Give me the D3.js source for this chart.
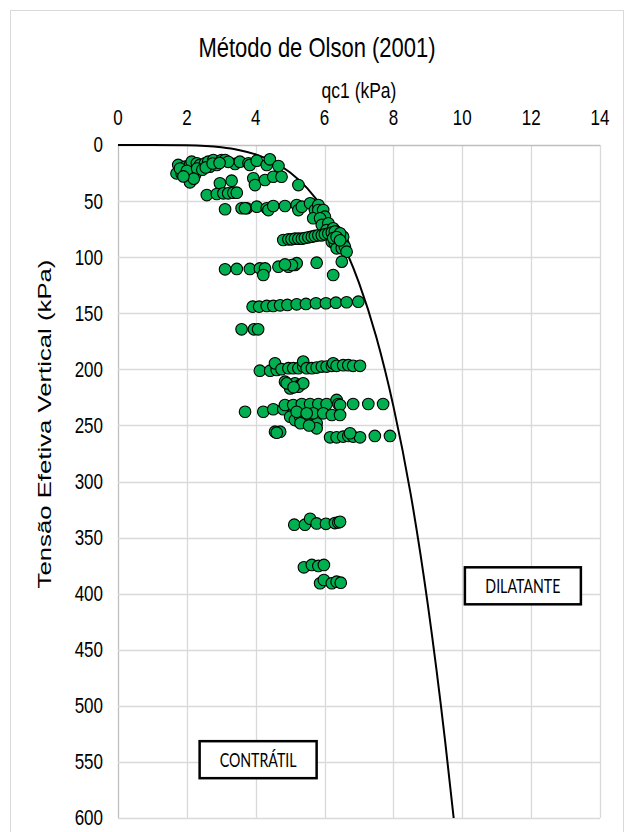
<!DOCTYPE html>
<html>
<head>
<meta charset="utf-8">
<script src="https://cdn.jsdelivr.net/npm/d3@7"></script>
<style>
  html, body { margin: 0; padding: 0; background: #fff; }
  svg { display: block; }
</style>
</head>
<body>
<svg id="chart" width="634" height="832"></svg>
<script>
// Axis ticks
const xTicks = [0, 2, 4, 6, 8, 10, 12, 14];
const yTicks = [0, 50, 100, 150, 200, 250, 300, 350, 400, 450, 500, 550, 600];

// Olson (2001) contractive / dilative boundary (qc1 vs. effective vertical stress)
const boundaryQc1 = [0, 1, 2, 3, 3.5, 4, 4.5, 5, 5.5, 6, 6.5, 7, 7.5, 8, 8.5, 9, 9.5, 9.75];
const boundarySigma = [0, 0.01, 0.3, 2.1, 4.4, 8.4, 14.8, 24.5, 38.7, 58.7, 86.1, 122.9, 171, 233, 311, 410, 531, 600];

// CPT measurements: qc1 and effective vertical stress (kPa)
const pointQc1 = [
  1.75, 1.70, 1.85, 1.95, 2.09, 2.04, 2.19, 2.14, 2.29, 2.38, 2.53, 2.62, 2.67, 2.77, 2.87, 3.01, 3.11, 3.40, 3.54, 3.79,
  3.83, 4.03, 4.32, 4.41, 4.66, 3.93, 3.98, 4.27, 4.51, 4.75, 2.09, 2.24, 5.24, 2.96, 3.30,
  1.80, 2.00, 2.30, 2.45, 2.20, 1.90, 2.55, 2.75, 3.20, 2.95,
  2.58, 2.87, 3.06, 3.20, 3.35, 3.45,
  3.11, 3.59, 3.74, 4.03, 4.32, 4.37, 4.51, 4.85, 5.19, 5.24, 5.34, 5.58, 5.72, 5.82, 5.82, 5.96, 3.69,
  5.67, 6.01, 5.87, 5.92, 6.11, 6.06, 6.25, 6.35,
  4.80, 4.95, 5.04, 5.14, 5.24, 5.34, 5.43, 5.53, 5.63, 5.72, 5.82, 5.92, 6.01, 6.11, 6.21, 6.30,
  6.21, 6.30, 6.40, 6.45, 6.54, 6.35, 6.50, 6.59, 6.64, 6.54, 6.45, 6.25, 6.35, 6.45,
  3.11, 3.45, 3.83, 4.12, 4.27, 4.66, 4.95, 5.14, 5.19, 5.77, 6.50, 6.25, 4.22, 5.05, 4.85,
  3.91, 4.10, 4.32, 4.51, 4.71, 4.92, 5.19, 5.46, 5.75, 6.04, 6.33, 6.64, 6.98,
  3.59, 3.95, 4.07,
  4.12, 4.42, 4.61, 4.56, 4.75, 4.95, 5.09, 5.24, 5.38, 5.38, 5.48, 5.63, 5.77, 5.92, 6.06, 6.21, 6.25, 6.35, 6.54, 6.69, 6.83, 7.03,
  4.85, 5.00, 5.14, 5.29, 5.00, 5.24, 5.38, 4.90, 5.10,
  3.69, 4.22, 4.51, 4.80, 4.85, 5.09, 5.34, 5.58, 5.82, 6.06, 6.35, 6.40, 6.45, 6.83, 7.27, 7.70,
  5.00, 5.14, 5.29, 5.43, 5.58, 5.77, 5.77, 5.67, 5.96, 6.21, 6.45, 5.19, 5.48, 5.30, 5.55,
  4.56, 4.71, 4.61,
  6.16, 6.35, 6.54, 6.69, 6.83, 7.03, 7.46, 7.90, 6.74,
  5.12, 5.43, 5.58, 5.77, 6.04, 6.30, 6.40, 6.45,
  5.40, 5.63, 5.82, 5.98,
  5.87, 5.98, 6.21, 6.35, 6.47
];
const pointSigma = [
  17.8, 25.3, 25.9, 19.3, 17.8, 26.7, 25.3, 14.9, 16.3, 17.8, 16.3, 14.9, 19.3, 13.4, 17.8, 13.4, 13.4, 16.9, 14.9, 16.3,
  17.8, 14.0, 17.8, 12.8, 18.7, 29.7, 35.7, 31.2, 28.3, 28.3, 33.3, 26.7, 35.7, 34.1, 31.8,
  21.0, 23.0, 21.0, 22.0, 30.0, 28.0, 20.0, 16.5, 15.0, 16.0,
  44.6, 43.7, 43.1, 43.1, 42.5, 42.5,
  57.3, 56.4, 56.4, 55.0, 56.4, 58.0, 54.4, 54.4, 53.5, 58.0, 55.0, 52.0, 58.0, 53.5, 58.0, 58.0, 56.4,
  65.3, 63.9, 65.3, 71.3, 69.8, 75.8, 74.3, 77.3,
  84.7, 84.1, 84.1, 83.5, 83.5, 83.5, 82.9, 82.3, 81.7, 81.1, 80.5, 80.5, 79.6, 79.0, 78.0, 77.1,
  86.2, 87.6, 84.7, 89.2, 87.6, 92.1, 92.1, 90.7, 95.1, 81.7, 78.7, 83.0, 82.0, 85.0,
  110.8, 110.5, 110.5, 110.0, 110.0, 108.5, 108.5, 107.0, 105.4, 104.9, 104.0, 115.9, 115.9, 107.0, 106.5,
  144.1, 144.1, 143.5, 143.5, 142.9, 142.6, 142.0, 141.7, 141.1, 141.1, 140.6, 140.2, 139.7,
  164.3, 164.3, 164.3,
  201.2, 201.2, 200.6, 194.6, 199.9, 199.0, 199.0, 199.0, 197.5, 193.1, 199.0, 199.0, 198.4, 197.5, 197.5, 196.9, 194.6, 196.9, 196.3, 196.3, 196.9, 196.9,
  211.0, 214.0, 212.5, 214.0, 217.0, 215.5, 212.5, 212.5, 216.0,
  237.8, 237.8, 235.6, 235.6, 231.8, 231.8, 230.9, 230.9, 230.9, 230.9, 227.3, 230.9, 231.8, 230.9, 230.9, 230.9,
  242.2, 245.2, 242.2, 246.7, 245.2, 248.1, 252.6, 239.2, 239.2, 240.7, 240.7, 237.8, 239.2, 248.0, 250.0,
  255.6, 255.6, 256.5,
  260.6, 260.6, 260.0, 259.4, 260.0, 260.6, 259.4, 259.4, 257.0,
  338.5, 338.5, 333.2, 337.4, 337.7, 337.1, 336.5, 335.9,
  376.5, 374.4, 375.3, 374.4,
  390.7, 387.8, 390.7, 389.3, 390.2
];

const plot = { left: 118, right: 600, top: 145, bottom: 818 };
const stretch = 1.25;   // tall, slightly narrow lettering

const svg = d3.select("#chart");
const font = "'Liberation Sans', Arial, sans-serif";

// chart frame
svg.append("rect")
  .attr("x", 10.5).attr("y", 10.5)
  .attr("width", 613).attr("height", 830)
  .attr("fill", "#fff").attr("stroke", "#d9d9d9").attr("stroke-width", 1);

const x = d3.scaleLinear().domain([0, 14]).range([plot.left, plot.right]);
const y = d3.scaleLinear().domain([0, 600]).range([plot.top, plot.bottom]);

// gridlines
const grid = svg.append("g");
grid.selectAll("line.v").data(xTicks).join("line")
  .attr("x1", d => Math.round(x(d)) + 0.5).attr("x2", d => Math.round(x(d)) + 0.5)
  .attr("y1", plot.top).attr("y2", plot.bottom)
  .attr("stroke", d => d === 0 ? "#bfbfbf" : "#d9d9d9").attr("stroke-width", 1.3);
grid.selectAll("line.h").data(yTicks).join("line")
  .attr("y1", d => Math.round(y(d)) + 0.5).attr("y2", d => Math.round(y(d)) + 0.5)
  .attr("x1", plot.left).attr("x2", plot.right)
  .attr("stroke", d => d === 0 ? "#bfbfbf" : "#d9d9d9").attr("stroke-width", 1.3);

// text helper: stretched along the reading direction's cross axis (or along length when rotated)
function label(px, py, txt, size, anchor, rot, s) {
  const k = s || stretch;
  return svg.append("text")
    .attr("transform", `translate(${px},${py})${rot ? ` rotate(${rot})` : ""} scale(${rot ? k : 1},${rot ? 1 : k})`)
    .attr("text-anchor", anchor)
    .attr("dy", "0.35em")
    .attr("font-family", font).attr("font-size", size).attr("fill", "#000")
    .text(txt);
}

// top axis tick labels
const xFmt = x.tickFormat(8, "d");
xTicks.forEach(t => label(x(t), 118, xFmt(t), 17, "middle"));
// left axis tick labels
const yFmt = y.tickFormat(12, "d");
yTicks.forEach(t => label(plot.left - 15, y(t), yFmt(t), 17, "end"));

// titles
label(317, 47, "Método de Olson (2001)", 22, "middle");
label((plot.left + plot.right) / 2, 90, "qc1 (kPa)", 17.5, "middle");
label(45, 424, "Tensão Efetiva Vertical (kPa)", 17.5, "middle", -90, 1.47);

// clip to plot area
svg.append("clipPath").attr("id", "clip").append("rect")
  .attr("x", plot.left - 8).attr("y", plot.top - 8)
  .attr("width", plot.right - plot.left + 16).attr("height", plot.bottom - plot.top + 8);

// boundary curve
const boundary = boundaryQc1.map((q, i) => [q, boundarySigma[i]]);
svg.append("path")
  .datum(boundary)
  .attr("clip-path", "url(#clip)")
  .attr("fill", "none").attr("stroke", "#000").attr("stroke-width", 2)
  .attr("d", d3.line().x(d => x(d[0])).y(d => y(d[1])).curve(d3.curveMonotoneX));

// measured points
const pts = pointQc1.map((q, i) => [q, pointSigma[i]]);
svg.append("g").selectAll("circle").data(pts).join("circle")
  .attr("cx", d => x(d[0])).attr("cy", d => y(d[1]))
  .attr("r", 5.8)
  .attr("fill", "#00b050").attr("stroke", "#000").attr("stroke-width", 1.1);

// region labels
function labelBox(cx, cy, w, h, txt) {
  const g = svg.append("g");
  g.append("rect").attr("x", cx - w / 2).attr("y", cy - h / 2).attr("width", w).attr("height", h)
    .attr("fill", "#fff").attr("stroke", "#000").attr("stroke-width", 2.5);
  g.append("text")
    .attr("transform", `translate(${cx},${cy}) scale(0.86,1.15)`)
    .attr("dy", "0.36em").attr("text-anchor", "middle")
    .attr("font-family", "Lato, 'Open Sans', sans-serif").attr("font-size", 16.5).attr("fill", "#000")
    .text(txt);
}
labelBox(x(11.76), y(393), 116, 37, "DILATANTE");
labelBox(x(4.07), y(548), 117, 37, "CONTRÁTIL");
</script>
</body>
</html>
